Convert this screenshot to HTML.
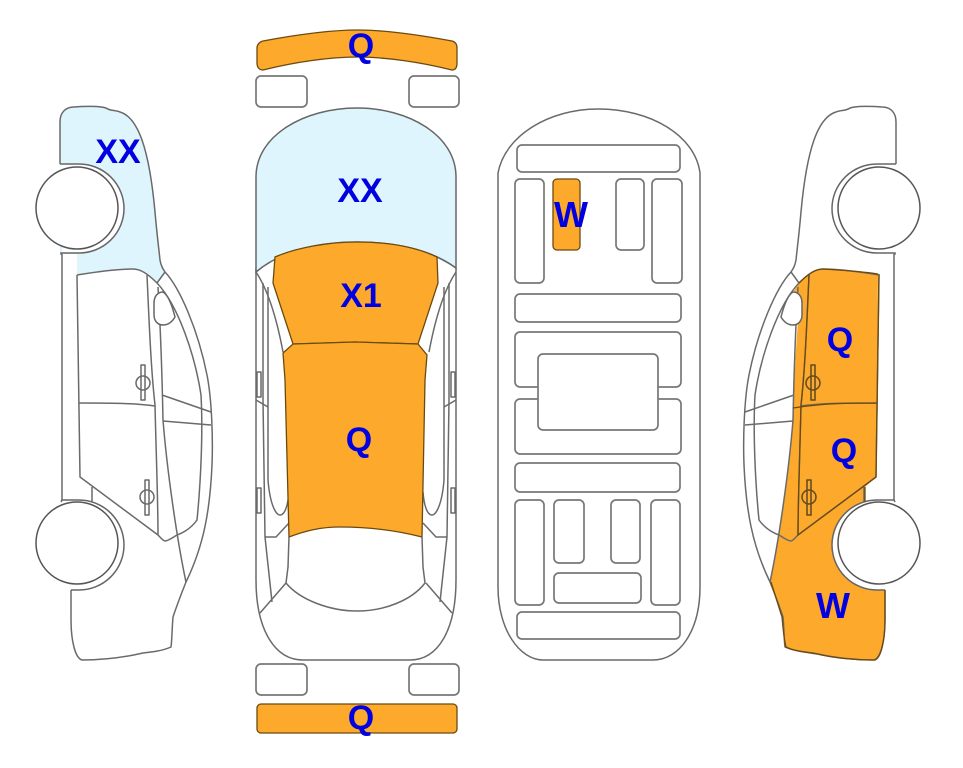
<!DOCTYPE html>
<html><head><meta charset="utf-8"><style>
html,body{margin:0;padding:0;background:#fff}
svg{display:block}
text{font-family:"Liberation Sans",sans-serif;font-weight:bold;font-size:34px;fill:#0000e0;text-anchor:middle}
.l{fill:none;stroke:#6a6a6a;stroke-width:1.5;stroke-linejoin:round}
.o{fill:#fda92c;stroke:#6b4a10;stroke-width:1.3}
.b{fill:#def5fe;stroke:#666;stroke-width:1.5}
.r{fill:#fff;stroke:#777;stroke-width:1.7}
</style></head><body>
<svg width="963" height="768" viewBox="0 0 963 768" xmlns="http://www.w3.org/2000/svg">
<defs>
<g id="side">
<path class="l" d="M60 164V122C60 112 66 107 74 107C85 106 100 106 106 108C110 111 115 110 120 112C130 115 137 126 142 140C149 160 153 190 155 212C157 235 159 250 160 260C161 266 163 269 165 272C180 288 198 330 207 375C212 400 213 440 212 465C210 510 204 545 186 582C180 597 176 608 173 617C172 628 172 640 171 647C162 651 152 652 143 653C130 656 108 660 82 660C75 658 71 640 71 620V590"/>
<path class="l" d="M157 283L165 272M147 275C149 320 151 370 155 405C156 450 158 500 158 535"/>
<path class="l" d="M77 275C95 272 115 269 133 269C140 269 147 273 157 283C178 305 195 355 201 395C203 430 201 480 197 520C190 530 180 534 177 535C172 538 168 541 165 541C163 541 160 537 158 535L80 477L77 275"/>
<path class="l" d="M158 287C160 320 162 370 163 420C167 470 177 540 186 582"/>
<path class="l" d="M79 403C105 403 135 403 155 406M162 395L211 412M163 421L211 425"/>
<path class="l" d="M62 254V501M92 487V502"/>
<path class="r" style="stroke:#666;stroke-width:1.5" d="M154 303C154 296 158 292 163 292C168 295 172 305 175 317C172 322 168 325 163 325C157 325 154 320 154 315Z"/>
<path class="l" d="M141 365h4v35h-4zM145 480h4v35h-4z"/>
<circle class="l" cx="143" cy="383" r="7"/><circle class="l" cx="147" cy="497" r="7"/>
<path class="r" style="stroke:#666;stroke-width:1.5" d="M60 164H79A45 44.5 0 0 1 79 253H61V254H62"/>
<path class="r" style="stroke:#666;stroke-width:1.5" d="M61 502L62 500H79A45 45 0 0 1 79 590H71"/>
<circle class="r" style="stroke:#555;stroke-width:1.5" cx="77" cy="208" r="41"/>
<circle class="r" style="stroke:#555;stroke-width:1.5" cx="77" cy="543" r="41"/>
</g>
<g id="half">
<path class="l" d="M263 283V400L265 537L272 602M268 287V480C270 505 276 515 280 515C285 515 288 505 289 492"/>
<path class="l" d="M256 272C268 290 277 320 283 352M265 537H276L289 523M256 400L268 407"/>
<path class="l" d="M286 583L260 613M257 372h4v25h-4zM257 488h4v25h-4z"/>
</g>
</defs>

<!-- top view -->
<path class="o" d="M263 41C295 35 330 30 358 30C385 30 420 35 452 41C456 42 457 45 457 48V63C457 68 455 70 452 70C420 62 385 57 357 57C330 57 295 62 263 70C259 70 257 67 257 63V48C257 45 259 42 263 41Z"/>
<rect class="r" x="256" y="76" width="51" height="31" rx="5"/><rect class="r" x="409" y="76" width="50" height="31" rx="5"/>
<rect class="r" x="256" y="664" width="51" height="31" rx="5"/><rect class="r" x="409" y="664" width="50" height="31" rx="5"/>
<rect class="o" x="257" y="704" width="200" height="29" rx="4"/>
<path class="l" d="M256 268V580C256 630 275 660 303 660H410C438 660 456 630 456 580V268"/>
<use href="#half"/><use href="#half" transform="matrix(-1 0 0 1 712 0)"/>
<path class="l" d="M256 272Q263 263 275 257M456 268Q449 263 437 257"/>
<path class="b" d="M256 272V177C256 135 305 108 357 108C408 108 456 135 456 177V268C432 250 395 242 357 242C320 242 282 250 256 272Z"/>
<path class="o" d="M275 257C298 247 330 242 357 242C388 242 416 247 437 257L438 283L418 344L355 342L293 344L273 283Z"/>
<path class="o" d="M293 344L355 342L418 344L427 355L425 380L422 537C395 530 365 527 340 527C320 527 305 531 289 537L285 380L283 353Z"/>
<path class="l" d="M289 537L288 567L286 583C300 600 330 611 357 611C385 611 412 600 425 583L423 567L422 537"/>

<!-- underside -->
<path class="l" d="M498 587V173C505 135 550 109 598 109C650 109 695 135 700 173V587C700 630 680 660 653 660H543C520 660 498 630 498 587Z"/>
<rect class="r" x="517" y="145" width="163" height="27" rx="5"/>
<rect class="r" x="515" y="179" width="29" height="104" rx="5"/>
<rect class="o" x="553" y="179" width="27" height="71" rx="4"/>
<rect class="r" x="616" y="179" width="28" height="71" rx="5"/>
<rect class="r" x="652" y="179" width="30" height="104" rx="5"/>
<rect class="r" x="515" y="294" width="166" height="28" rx="5"/>
<rect class="r" x="515" y="332" width="166" height="55" rx="5"/>
<rect class="r" x="515" y="399" width="166" height="55" rx="5"/>
<rect class="r" x="538" y="354" width="120" height="76" rx="5"/>
<rect class="r" x="515" y="463" width="165" height="29" rx="5"/>
<rect class="r" x="515" y="500" width="29" height="105" rx="5"/>
<rect class="r" x="554" y="500" width="30" height="63" rx="5"/>
<rect class="r" x="611" y="500" width="29" height="63" rx="5"/>
<rect class="r" x="651" y="500" width="29" height="105" rx="5"/>
<rect class="r" x="554" y="573" width="87" height="30" rx="5"/>
<rect class="r" x="517" y="612" width="163" height="27" rx="5"/>

<!-- left side -->
<path d="M60 164V122C60 112 66 107 74 107C85 106 100 106 106 108C110 111 115 110 120 112C130 115 137 126 142 140C149 160 153 190 155 212C157 235 159 250 160 260C161 266 163 269 165 272L157 283C147 273 140 269 133 269C115 269 95 272 77 275V254H60Z" fill="#def5fe"/>
<use href="#side"/>

<!-- right side -->
<path d="M878 274C860 271 838 270 823 269C816 269 809 273 799 283L792 294L798 322C796 345 794 385 793 420C789 470 779 540 770 582L782 617C783 628 784 640 786 647C794 651 804 652 817 654C830 657 850 660 875 660C881 658 885 640 885 620V585L870 500L865 502V487L876 477L877 403Z" fill="#fda92c"/>
<use href="#side" transform="matrix(-1 0 0 1 956 0)"/>
<path d="M878 274C860 271 838 270 823 269C816 269 809 273 799 283M809 275C807 320 805 370 801 405C800 450 798 500 798 535L876 477L879 274M793 408C825 403 850 403 877 403M865 487V502M771 582L782 617C783 628 784 640 786 647C794 651 804 652 817 654C830 657 850 660 875 660C881 658 885 640 885 620V590" fill="none" stroke="#6b4a10" stroke-width="1.3"/>
<path d="M811 365h4v35h-4zM807 480h4v35h-4z" fill="none" stroke="#6b4a10" stroke-width="1.3"/>
<circle cx="813" cy="383" r="7" fill="none" stroke="#6b4a10" stroke-width="1.3"/>
<circle cx="809" cy="497" r="7" fill="none" stroke="#6b4a10" stroke-width="1.3"/>

<text x="118" y="163">XX</text>
<text x="361" y="57">Q</text>
<text x="360" y="202">XX</text>
<text x="361" y="307">X1</text>
<text x="359" y="451">Q</text>
<text x="361" y="729">Q</text>
<text x="571" y="227" style="font-size:36px">W</text>
<text x="840" y="351">Q</text>
<text x="844" y="462">Q</text>
<text x="833" y="618" style="font-size:36px">W</text>
</svg>
</body></html>
